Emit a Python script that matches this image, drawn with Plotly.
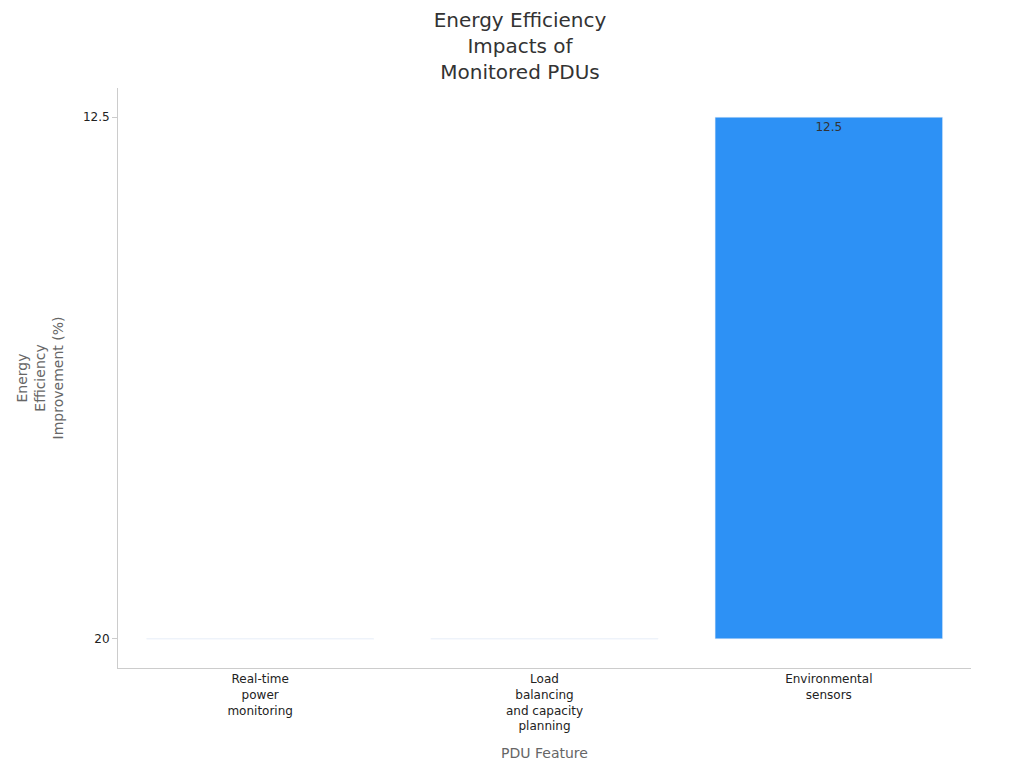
import plotly.graph_objects as go

features = ["Real-time<br>power<br>monitoring", "Load<br>balancing<br>and capacity<br>planning", "Environmental<br>sensors"]
improvement = ["20", "20", "12.5"]

fig = go.Figure(go.Bar(
    x=features, y=improvement, text=improvement,
    textposition="inside", insidetextanchor="end",
    textfont=dict(color="#333333", size=12),
    marker=dict(color="#2d91f5"), width=0.8,
))
fig.update_layout(
    width=1024, height=768,
    font=dict(family="DejaVu Sans", color="#222222", size=12),
    title=dict(text="Energy Efficiency<br>Impacts of<br>Monitored PDUs", x=0.5, xanchor="center", y=0.975, yanchor="top",
               font=dict(size=20, color="#333333")),
    plot_bgcolor="white", paper_bgcolor="white",
    margin=dict(l=110, r=61, t=80, b=108),
    showlegend=False,
    xaxis=dict(title=dict(text="PDU Feature", font=dict(size=14, color="#666666")),
               showline=True, linecolor="#cccccc", ticks="", showgrid=False),
    yaxis=dict(title=dict(text="Energy<br>Efficiency<br>Improvement (%)", font=dict(size=14, color="#666666")),
               type="category", range=[-0.056, 1.056],
               showline=True, linecolor="#cccccc", ticks="outside", tickcolor="#cccccc", ticklen=5, showgrid=False),
)
fig.write_html("out.html")
